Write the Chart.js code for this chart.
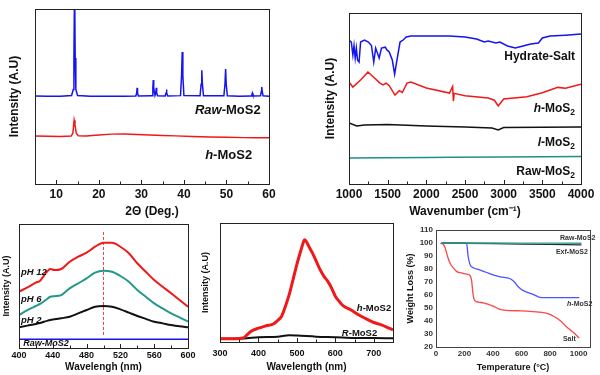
<!DOCTYPE html>
<html lang="en">
<head>
<meta charset="UTF-8">
<title>MoS2 characterisation</title>
<script src="https://cdn.jsdelivr.net/npm/chart.js"></script>
<style>
  body { margin: 0; background: #fff; width: 600px; height: 375px; position: relative; overflow: hidden; }
  canvas { position: absolute; }
</style>
</head>
<body>
<canvas id="xrd" width="295" height="228" style="left:0;top:0;width:295px;height:228px"></canvas>
<canvas id="ftir" width="305" height="228" style="left:295px;top:0;width:305px;height:228px"></canvas>
<canvas id="plph" width="205" height="160" style="left:0;top:215px;width:205px;height:160px"></canvas>
<canvas id="pl" width="210" height="160" style="left:195px;top:215px;width:210px;height:160px"></canvas>
<canvas id="tga" width="195" height="160" style="left:405px;top:215px;width:195px;height:160px"></canvas>

<script>
// ---- XRD (2 theta) ----
const xrdRawX = [5, 8, 11, 13.6, 14.0, 14.15, 14.3, 14.45, 14.6, 15.0, 18, 22, 26, 28.7, 28.9, 29.0, 29.1, 29.3,
  32.5, 32.7, 32.8, 32.9, 33.2, 33.4, 33.5, 33.6, 33.8, 35.6, 35.8, 35.9, 36.0, 36.2,
  39.2, 39.45, 39.6, 39.75, 40.0, 43.8, 44.05, 44.2, 44.35, 44.6, 49.4, 49.65, 49.8, 49.95, 50.2,
  53, 55.8, 56.0, 56.1, 56.2, 56.4, 58.0, 58.2, 58.3, 58.4, 58.6, 60];
const xrdRawY = [50.3, 50.2, 50.2, 50.6, 54, 72, 115, 72, 54, 50.6, 50.2, 50.2, 50.2, 50.3, 52, 54.9, 52, 50.3,
  50.4, 55, 59.4, 55, 50.6, 52, 55, 52, 50.4, 50.3, 52, 54, 52, 50.3,
  50.5, 62, 75.4, 62, 50.5, 50.4, 57, 65, 57, 50.4, 50.4, 57, 65.7, 57, 50.4,
  50.2, 50.3, 51.2, 52, 51.2, 50.3, 50.4, 53, 55.4, 53, 50.4, 50.2];
const xrdHX = [5, 8, 11, 13.5, 13.9, 14.2, 14.4, 14.7, 15.2, 17, 20, 23, 26, 29, 32, 35, 38, 42, 46, 50, 54, 57, 60];
const xrdHY = [27.5, 27.3, 27.2, 27.4, 29, 36.5, 34, 29, 27.6, 27.4, 28, 28.5, 28.6, 28.3, 28.0, 27.7, 27.5, 27.2, 26.9, 26.7, 26.5, 26.5, 26.4];

// ---- FTIR (wavenumber) ----
const ftSaltX = [1000, 1030, 1050, 1065, 1080, 1095, 1110, 1130, 1150, 1200, 1250, 1290, 1320, 1345, 1390, 1420, 1470, 1490,
  1520, 1560, 1590, 1620, 1660, 1700, 1740, 1800, 2000, 2300, 2500, 2650, 2750, 2800, 2900, 2950, 3050, 3150, 3250, 3350,
  3450, 3500, 3600, 3800, 4000];
const ftSaltY = [84.2, 83, 75.4, 81, 73.7, 79.5, 72.5, 71.3, 83, 84.2, 83, 81, 71.3, 79.5, 73.7, 79.5, 80, 78.4,
  77.2, 72.5, 64.3, 72.5, 83, 84.2, 86, 86.5, 86.5, 86.5, 86, 84.8, 83, 83.6, 82.5, 83, 80.7, 79.5, 80.7, 81.9,
  82.5, 85.4, 86.5, 87, 87.7];
const ftHX = [1000, 1050, 1150, 1245, 1330, 1400, 1440, 1480, 1520, 1595, 1650, 1690, 1750, 1800, 2000, 2300, 2340, 2350, 2360,
  2500, 2800, 2880, 2930, 3000, 3300, 3500, 3700, 3800, 4000];
const ftHY = [59.6, 56.7, 60.8, 65.5, 62, 59, 57.9, 59, 57.5, 52, 54.6, 53.5, 59, 59.6, 56.1, 53.2, 57, 48.5, 53,
  51.6, 50.3, 49, 45.6, 49.7, 51, 53.4, 56.5, 56, 58.3];
const ftLX = [1000, 1100, 1200, 1500, 2000, 2500, 2850, 2930, 3000, 4000];
const ftLY = [35.7, 33.9, 34.5, 34.8, 33.9, 33.3, 32.7, 31.6, 33, 33.3];
const ftRawX = [1000, 2000, 2350, 3000, 4000];
const ftRawY = [15.2, 15.5, 15.6, 15.8, 16.1];

// ---- PL vs pH ----
const phX = [400, 410, 420, 425, 433, 437, 442, 450, 460, 470, 480, 490, 500, 510, 520, 530, 540, 550, 560, 570, 580, 590, 600];
const ph12Y = [47.3, 51, 54.9, 56.6, 64.1, 66.4, 65.5, 66.4, 72.5, 76.7, 80.1, 85.1, 88.5, 88.5, 85.1, 79.6, 71.2, 64.1, 57.1, 51.5, 46, 40.3, 34.7];
const ph6Y = [27.7, 31.9, 35.3, 37, 41, 43.1, 43.5, 44.5, 50.1, 54.3, 58.5, 63.3, 65, 64.1, 60.5, 55.7, 48.7, 43.1, 37.5, 33.3, 29.1, 25.8, 22.1];
const ph2Y = [17.4, 18.8, 20.2, 21, 22.8, 23.6, 24.1, 25, 26.3, 29.1, 31.9, 34.7, 35.3, 34.7, 32.5, 29.7, 26.9, 24.5, 22.1, 20.7, 19.3, 18.2, 17.4];
const phRawX = [400, 600];
const phRawY = [7.3, 7.3];
const phMarkX = [500, 500];
const phMarkY = [11, 97.5];

// ---- PL spectra ----
const plHX = [300, 340, 360, 370, 380, 400, 420, 440, 450, 460, 470, 480, 490, 500, 510, 515, 520, 525, 530, 540, 550, 560,
  570, 580, 590, 600, 610, 620, 640, 660, 680, 700, 720, 740, 750];
const plHY = [2.8, 2.8, 3.4, 5.9, 8.8, 11.6, 13.6, 15.3, 18.1, 21.5, 29.9, 39.8, 52.5, 65.3, 76.6, 82, 86, 84.2, 81, 75.1, 68.1, 61,
  55.4, 51.1, 45.5, 38.4, 34.2, 30.5, 27.1, 22.9, 19.5, 16.4, 14.4, 11.6, 10.2];
const plRX = [300, 360, 400, 450, 480, 500, 550, 600, 650, 700, 750];
const plRY = [2.8, 2.9, 4, 4.5, 5.6, 5.4, 4.5, 4, 3.4, 3.4, 3.1];

// ---- TGA ----
const tgaRawX = [40, 200, 400, 600, 800, 1020];
const tgaRawY = [100, 100, 100, 99.9, 99.9, 99.8];
const tgaExfX = [40, 200, 400, 600, 800, 1020];
const tgaExfY = [100, 99.8, 99.5, 99.2, 98.9, 98.5];
const tgaHX = [40, 200, 215, 225, 240, 262, 300, 350, 400, 450, 520, 550, 580, 620, 680, 738, 800, 900, 1005];
const tgaHY = [100, 100, 99.5, 90, 83, 81, 79.5, 77.5, 75.5, 74, 72.5, 70, 66, 63, 60.5, 58, 58, 58, 58];
const tgaSaltX = [30, 50, 65, 80, 100, 120, 146, 180, 216, 239, 250, 258, 266, 274, 300, 332, 400, 448, 517, 600, 680, 773, 810, 842, 880, 911, 960, 1004];
const tgaSaltY = [99.8, 99, 96, 90, 84, 81, 78, 77, 76, 75, 71, 62, 57, 55.5, 54.5, 54, 51.5, 49, 48, 47.8, 47.2, 46, 44.5, 42.5, 39.5, 36, 31.5, 27];

const FONT = '"Liberation Sans", Arial, sans-serif';
Chart.defaults.font.family = FONT;
Chart.defaults.font.weight = 'bold';
Chart.defaults.color = '#111';

const pts = (xs, ys) => xs.map((x, i) => ({x: x, y: ys[i]}));

function drawRich(ctx, parts, x, y, size, align, color) {
  const fontOf = (st, sz) => (st.includes('i') ? 'italic ' : '') + 'bold ' + sz + 'px ' + FONT;
  const widths = parts.map(([t, st]) => {
    ctx.font = fontOf(st, st.includes('s') ? size * 0.7 : size);
    return ctx.measureText(t).width;
  });
  const total = widths.reduce((a, b) => a + b, 0);
  let cx = align === 'right' ? x - total : x;
  ctx.textBaseline = 'middle';
  ctx.textAlign = 'left';
  ctx.fillStyle = color || '#111';
  parts.forEach(([t, st], i) => {
    const sub = st.includes('s');
    ctx.font = fontOf(st, sub ? size * 0.7 : size);
    ctx.fillText(t, cx, sub ? y + size * 0.3 : y);
    cx += widths[i];
  });
}

// box round the plot, small inward ticks and the curve labels
const frame = {
  id: 'frame',
  afterDatasetsDraw(chart, args, opts) {
    const {ctx, chartArea: a, scales} = chart;
    ctx.save();
    ctx.strokeStyle = opts.color || '#222';
    ctx.lineWidth = 1;
    ctx.strokeRect(Math.round(a.left) + 0.5, Math.round(a.top) + 0.5, Math.round(a.right - a.left), Math.round(a.bottom - a.top));
    if (opts.ticks) {
      const xs = scales.x;
      const vals = xs.ticks.map(t => t.value);
      const step = vals[1] - vals[0];
      ctx.beginPath();
      for (let v = vals[0] - step / 2; v <= xs.max; v += step / 2) {
        if (v < xs.min) continue;
        const px = Math.round(xs.getPixelForValue(v)) + 0.5;
        const major = vals.some(m => Math.abs(m - v) < 1e-6);
        ctx.moveTo(px, a.bottom);
        ctx.lineTo(px, a.bottom - (major ? 4 : 2.5));
      }
      ctx.stroke();
    }
    (opts.labels || []).forEach(l => {
      drawRich(ctx, l.parts, scales.x.getPixelForValue(l.x), scales.y.getPixelForValue(l.y), l.size, l.align, opts.textColor);
    });
    ctx.restore();
  }
};

function makeChart(id, cfg) {
  const xScale = {
    type: 'linear', min: cfg.xMin, max: cfg.xMax,
    grid: {display: false, drawTicks: false},
    border: {display: false},
    ticks: {stepSize: cfg.xStep, includeBounds: false, padding: cfg.xPad, font: {size: cfg.tickSize},
      maxRotation: 0, autoSkip: false, color: cfg.tickColor || '#111', callback: v => String(v)},
    title: {display: true, text: cfg.xTitle, font: {size: cfg.titleSize}, padding: {top: 0, bottom: cfg.xTitlePad}},
    afterFit: s => { s.height = cfg.xHeight; }
  };
  const yScale = {
    type: 'linear', min: cfg.yMin, max: cfg.yMax,
    grid: {display: false, drawTicks: false},
    border: {display: false},
    ticks: cfg.yTicks ? {stepSize: cfg.yStep, padding: 3, font: {size: cfg.tickSize}, color: cfg.tickColor || '#111'} : {display: false},
    title: {display: !!cfg.yTitle, text: cfg.yTitle, font: {size: cfg.yTitleSize || cfg.titleSize}, padding: {top: cfg.yTitlePad, bottom: 0}},
    afterFit: s => { s.width = cfg.yWidth; }
  };
  return new Chart(document.getElementById(id), {
    type: 'line',
    data: {datasets: cfg.datasets},
    options: {
      responsive: false,
      animation: false,
      layout: {padding: {left: 0, bottom: 0, top: cfg.padTop, right: cfg.padRight}},
      elements: {point: {radius: 0}, line: {tension: 0}},
      plugins: {
        legend: {display: false},
        tooltip: {enabled: false},
        frame: {ticks: cfg.inTicks, labels: cfg.labels, color: cfg.frameColor, textColor: cfg.textColor}
      },
      scales: {x: xScale, y: yScale}
    },
    plugins: [frame]
  });
}

makeChart('xrd', {
  xMin: 5, xMax: 60, xStep: 10, yMin: 0, yMax: 100,
  xTitle: '2\u0398 (Deg.)', yTitle: 'Intensity (A.U)',
  tickSize: 12, titleSize: 12, xPad: 3, xTitlePad: 9, yTitlePad: 7,
  xHeight: 44, yWidth: 35, padTop: 9, padRight: 26, inTicks: true,
  datasets: [
    {data: pts(xrdRawX, xrdRawY), borderColor: '#1414f0', borderWidth: 1.5},
    {data: pts(xrdHX, xrdHY), borderColor: '#f01818', borderWidth: 1.5}
  ],
  labels: [
    {parts: [['Raw', 'i'], ['-MoS2', '']], x: 42.6, y: 42.3, size: 13},
    {parts: [['h', 'i'], ['-MoS2', '']], x: 45, y: 16.6, size: 13}
  ]
});

makeChart('ftir', {
  xMin: 1000, xMax: 4000, xStep: 500, yMin: 0, yMax: 100,
  xTitle: 'Wavenumber (cm\u207B\u00B9)', yTitle: 'Intensity (A.U)',
  tickSize: 12, titleSize: 12, xPad: 3, xTitlePad: 9, yTitlePad: 28,
  xHeight: 44, yWidth: 54, padTop: 13, padRight: 19, inTicks: true,
  datasets: [
    {data: pts(ftSaltX, ftSaltY), borderColor: '#1414f0', borderWidth: 1.5},
    {data: pts(ftHX, ftHY), borderColor: '#f01818', borderWidth: 1.5},
    {data: pts(ftLX, ftLY), borderColor: '#111', borderWidth: 1.5},
    {data: pts(ftRawX, ftRawY), borderColor: '#1e9186', borderWidth: 1.5}
  ],
  labels: [
    {parts: [['Hydrate-Salt', '']], x: 3922, y: 74.3, size: 12},
    {parts: [['h', 'i'], ['-MoS', ''], ['2', 's']], x: 3922, y: 43.9, size: 12},
    {parts: [['l', 'i'], ['-MoS', ''], ['2', 's']], x: 3922, y: 24, size: 12},
    {parts: [['Raw-MoS', ''], ['2', 's']], x: 3922, y: 7, size: 12}
  ].map(l => Object.assign(l, {align: 'right'}))
});

makeChart('plph', {
  xMin: 400, xMax: 600, xStep: 40, yMin: 0, yMax: 104.2,
  xTitle: 'Wavelengh (nm)', yTitle: 'Intensity (A.U)',
  tickSize: 9, titleSize: 10, yTitleSize: 9, xPad: 2, xTitlePad: 2, yTitlePad: 1,
  xHeight: 27, yWidth: 19, padTop: 9, padRight: 17, inTicks: true,
  datasets: [
    {data: pts(phX, ph12Y), borderColor: '#f01818', borderWidth: 2, cubicInterpolationMode: 'monotone'},
    {data: pts(phX, ph6Y), borderColor: '#22998c', borderWidth: 2, cubicInterpolationMode: 'monotone'},
    {data: pts(phX, ph2Y), borderColor: '#111', borderWidth: 2, cubicInterpolationMode: 'monotone'},
    {data: pts(phRawX, phRawY), borderColor: '#1414f0', borderWidth: 1.5},
    {data: pts(phMarkX, phMarkY), borderColor: '#f04040', borderWidth: 1, borderDash: [3, 2]}
  ],
  labels: [
    {parts: [['pH 12', 'i']], x: 402.4, y: 63.9, size: 9.5},
    {parts: [['pH 6', 'i']], x: 402.4, y: 41.2, size: 9.5},
    {parts: [['pH 2', 'i']], x: 402.4, y: 23.5, size: 9.5},
    {parts: [['Raw-MoS2', 'i']], x: 405, y: 3.4, size: 9}
  ]
});

makeChart('pl', {
  xMin: 300, xMax: 750, xStep: 100, yMin: 0, yMax: 100,
  xTitle: 'Wavelength (nm)', yTitle: 'Intensity (A.U)',
  tickSize: 9, titleSize: 10, yTitleSize: 9, xPad: 6, xTitlePad: 2, yTitlePad: 5,
  xHeight: 33, yWidth: 25, padTop: 8, padRight: 12, inTicks: true,
  datasets: [
    {data: pts(plHX, plHY), borderColor: '#f01818', borderWidth: 3, cubicInterpolationMode: 'monotone'},
    {data: pts(plRX, plRY), borderColor: '#111', borderWidth: 2, cubicInterpolationMode: 'monotone'}
  ],
  labels: [
    {parts: [['h', 'i'], ['-MoS2', '']], x: 656, y: 28, size: 9.5},
    {parts: [['R', 'i'], ['-MoS2', '']], x: 617, y: 7.6, size: 9.5}
  ]
});

makeChart('tga', {
  xMin: 0, xMax: 1080, xStep: 200, yMin: 20, yMax: 110, yTicks: true, yStep: 10,
  xTitle: 'Temperature (\u00B0C)', yTitle: 'Weight Loss (%)',
  tickSize: 8, titleSize: 9, xPad: 2, xTitlePad: 2, yTitlePad: 0,
  xHeight: 28, yWidth: 31, padTop: 15, padRight: 10, inTicks: false,
  frameColor: '#444', textColor: '#333', tickColor: '#333',
  datasets: [
    {data: pts(tgaRawX, tgaRawY), borderColor: '#35a096', borderWidth: 1.3},
    {data: pts(tgaExfX, tgaExfY), borderColor: '#203038', borderWidth: 1.3},
    {data: pts(tgaHX, tgaHY), borderColor: '#4a55ff', borderWidth: 1.3, cubicInterpolationMode: 'monotone'},
    {data: pts(tgaSaltX, tgaSaltY), borderColor: '#ff4545', borderWidth: 1.3, cubicInterpolationMode: 'monotone'}
  ],
  labels: [
    {parts: [['Raw-MoS2', '']], x: 870, y: 103.8, size: 7},
    {parts: [['Exf-MoS2', '']], x: 841, y: 93, size: 7},
    {parts: [['h', 'i'], ['-MoS2', '']], x: 919, y: 53, size: 7},
    {parts: [['Salt', '']], x: 890, y: 26, size: 7}
  ]
});
</script>
</body>
</html>
